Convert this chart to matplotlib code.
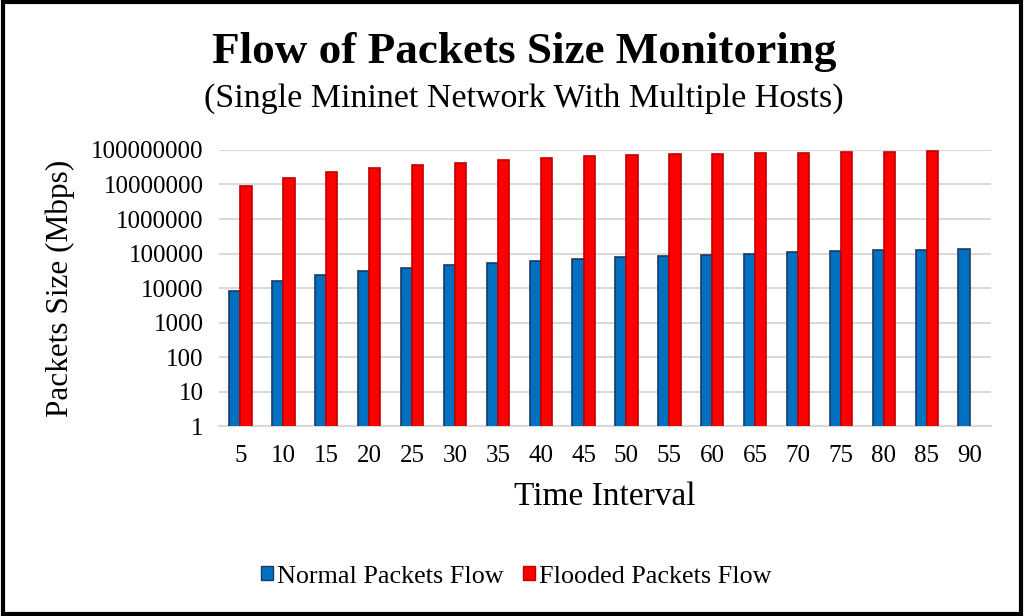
import matplotlib.pyplot as plt
import numpy as np
from matplotlib.patches import Rectangle, Patch
from matplotlib.ticker import FixedLocator, FixedFormatter

plt.rcParams['font.family'] = ['Liberation Serif', 'DejaVu Serif']

time_interval = [5, 10, 15, 20, 25, 30, 35, 40, 45, 50, 55, 60, 65, 70, 75, 80, 85, 90]
normal_flow = [8000, 15500, 23500, 31000, 38500, 45500, 54000, 61500, 69000, 77000,
               84000, 92000, 98000, 107000, 117000, 125000, 130000, 136000]
flooded_flow = [9300000, 15900000, 23200000, 30900000, 36900000, 43200000, 51500000,
                57500000, 65600000, 71800000, 75000000, 78400000, 80000000, 83800000,
                85700000, 89600000, 95700000, 0]
y_ticks = [1, 10, 100, 1000, 10000, 100000, 1000000, 10000000, 100000000]

fig = plt.figure(figsize=(10.24, 6.16), dpi=100)
ax = fig.add_axes([0.2139, 0.3084, 0.7539, 0.4481])

x = np.arange(len(time_interval))
w = 0.26
flooded = np.array(flooded_flow, dtype=float)
ax.bar(x - w / 2, normal_flow, width=w, color='#0070C0', edgecolor='#1F3864',
       linewidth=1.2, zorder=3)
ax.bar(x[flooded > 0] + w / 2, flooded[flooded > 0], width=w, color='#FF0000',
       edgecolor='#C00000', linewidth=1.2, zorder=3)

ax.set_yscale('log')
ax.set_ylim(1, 1e8)
ax.set_xlim(-0.5, len(time_interval) - 0.5)
ax.yaxis.set_major_locator(FixedLocator(y_ticks))
ax.yaxis.set_major_formatter(FixedFormatter([str(v) for v in y_ticks]))
ax.yaxis.set_minor_locator(FixedLocator([]))
ax.set_xticks(x)
ax.set_xticklabels([str(t) for t in time_interval])
ax.tick_params(axis='both', length=0, labelsize=18, pad=11)
ax.tick_params(axis='x', pad=14)
ax.grid(axis='y', color='#D9D9D9', linewidth=1.5, zorder=0)
for s in ['top', 'right', 'left']:
    ax.spines[s].set_visible(False)
ax.spines['bottom'].set_color('#D9D9D9')
ax.spines['bottom'].set_linewidth(1.5)

ax.set_xlabel('Time Interval', fontsize=24, labelpad=10)
ax.set_ylabel('Packets Size (Mbps)', fontsize=22.5, labelpad=12)

fig.text(0.512, 0.915, 'Flow of Packets Size Monitoring', ha='center', va='center',
         fontsize=32.5, fontweight='bold')
fig.text(0.512, 0.840, '(Single Mininet Network With Multiple Hosts)', ha='center',
         va='center', fontsize=24.5)

handles = [Patch(facecolor='#0070C0', edgecolor='#1F3864', label='Normal Packets Flow'),
           Patch(facecolor='#FF0000', edgecolor='#C00000', label='Flooded Packets Flow')]
fig.legend(handles=handles, loc='center', bbox_to_anchor=(0.504, 0.064), ncol=2,
           frameon=False, fontsize=18.8, handlelength=0.45, handleheight=0.45,
           handletextpad=0.15, columnspacing=0.75)

fig.patches.append(Rectangle((0.003, 0.004), 0.994, 0.992, transform=fig.transFigure,
                             fill=False, edgecolor='black', linewidth=3))

fig.savefig('out.png', dpi=100)
